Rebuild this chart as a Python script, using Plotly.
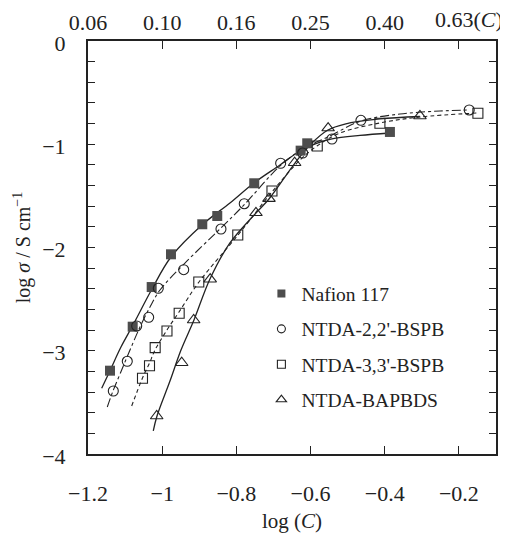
import plotly.graph_objects as go

# ---- data ----
nafion_x = [-1.1407, -1.0795, -1.0283, -0.9763, -0.8919, -0.8515, -0.7518, -0.6267, -0.6089, -0.386]
nafion_y = [-3.193, -2.767, -2.383, -2.066, -1.775, -1.695, -1.378, -1.062, -0.991, -0.881]

bspb22_x = [-1.1318, -1.0941, -1.0687, -1.0364, -1.0105, -0.942, -0.8415, -0.7787, -0.6806, -0.6213, -0.5423, -0.4642, -0.1722]
bspb22_y = [-3.390, -3.102, -2.760, -2.676, -2.395, -2.215, -1.821, -1.576, -1.184, -1.085, -0.949, -0.768, -0.668]

bspb33_x = [-1.0531, -1.0342, -1.0189, -0.9871, -0.9542, -0.9013, -0.7962, -0.704, -0.5819, -0.413, -0.1488]
bspb33_y = [-3.267, -3.145, -2.970, -2.809, -2.637, -2.334, -1.879, -1.453, -1.017, -0.797, -0.700]

bapbds_x = [-1.0148, -0.9474, -0.9151, -0.8706, -0.7472, -0.7121, -0.6429, -0.5526, -0.3051]
bapbds_y = [-3.632, -3.116, -2.702, -2.307, -1.664, -1.527, -1.179, -0.843, -0.726]

# fitted curves
nafion_fit_x = [-1.1631, -1.1407, -1.1111, -1.0787, -1.0275, -0.9763, -0.8927, -0.8173, -0.7526, -0.6825, -0.6286, -0.5854, -0.5423, -0.4668, -0.386]
nafion_fit_y = [-3.364, -3.193, -2.964, -2.751, -2.402, -2.092, -1.782, -1.569, -1.375, -1.201, -1.065, -0.993, -0.949, -0.915, -0.891]

bspb22_fit_x = [-1.148, -1.1326, -1.1137, -1.0868, -1.0598, -1.0329, -1.0059, -0.9412, -0.8415, -0.7795, -0.6798, -0.6205, -0.5477, -0.4642, -0.359, -0.2512, -0.173]
bspb22_fit_y = [-3.545, -3.390, -3.225, -2.993, -2.770, -2.576, -2.412, -2.160, -1.811, -1.588, -1.201, -1.046, -0.920, -0.775, -0.707, -0.678, -0.668]

bspb33_fit_x = [-1.0822, -1.0531, -1.0342, -1.0194, -0.9871, -0.9547, -0.9008, -0.7957, -0.704, -0.6286, -0.5827, -0.5208, -0.4129, -0.3051, -0.1488]
bspb33_fit_y = [-3.535, -3.264, -3.119, -2.993, -2.799, -2.625, -2.334, -1.879, -1.462, -1.153, -1.017, -0.891, -0.794, -0.736, -0.697]

bapbds_fit_x = [-1.024, -1.014, -0.979, -0.9493, -0.9143, -0.8712, -0.8173, -0.7472, -0.7121, -0.642, -0.6016, -0.5531, -0.5073, -0.4129, -0.3051]
bapbds_fit_y = [-3.777, -3.632, -3.293, -2.993, -2.702, -2.305, -1.956, -1.666, -1.530, -1.182, -1.007, -0.862, -0.804, -0.755, -0.731]

series_names = ["Nafion 117", "NTDA-2,2'-BSPB", "NTDA-3,3'-BSPB", "NTDA-BAPBDS"]

x_tickvals = [-1.2, -1.0, -0.8, -0.6, -0.4, -0.2]
x_ticktext = ["\u22121.2", "\u22121", "\u22120.8", "\u22120.6", "\u22120.4", "\u22120.2"]
top_ticktext = ["0.06", "0.10", "0.16", "0.25", "0.40", ""]
top_last_label = "0.63(<i>C</i>)"
y_tickvals = [round(-0.2 * i, 1) for i in range(21)]
y_major = {0.0: "0", -1.0: "\u22121", -2.0: "\u22122", -3.0: "\u22123", -4.0: "\u22124"}

FONT = "Liberation Serif, Times New Roman, serif"
INK = "#222222"
FILL = "#4d4d4d"

fig = go.Figure()

# fitted lines
fig.add_trace(go.Scatter(x=nafion_fit_x, y=nafion_fit_y, mode="lines", line=dict(color=INK, width=1.3, shape="spline"), showlegend=False, hoverinfo="skip"))
fig.add_trace(go.Scatter(x=bspb22_fit_x, y=bspb22_fit_y, mode="lines", line=dict(color=INK, width=1.1, dash="dashdot", shape="spline"), showlegend=False, hoverinfo="skip"))
fig.add_trace(go.Scatter(x=bspb33_fit_x, y=bspb33_fit_y, mode="lines", line=dict(color=INK, width=1.1, dash="4px,3px", shape="spline"), showlegend=False, hoverinfo="skip"))
fig.add_trace(go.Scatter(x=bapbds_fit_x, y=bapbds_fit_y, mode="lines", line=dict(color=INK, width=1.3, shape="spline"), showlegend=False, hoverinfo="skip"))

# markers
marker_styles = [
    dict(symbol="square", color=FILL, line=dict(color=FILL, width=0)),
    dict(symbol="circle-open", color=INK, line=dict(width=1.1)),
    dict(symbol="square-open", color=INK, line=dict(width=1.1)),
    dict(symbol="triangle-up-open", color=INK, line=dict(width=1.1)),
]
data_sets = [(nafion_x, nafion_y, 10), (bspb22_x, bspb22_y, 10), (bspb33_x, bspb33_y, 10), (bapbds_x, bapbds_y, 11)]
for (xs, ys, sz), st, nm in zip(data_sets, marker_styles, series_names):
    fig.add_trace(go.Scatter(x=xs, y=ys, mode="markers", name=nm, showlegend=False,
                             marker=dict(size=sz, **st)))
# legend entries (small symbols as in the reference legend)
for i, (st, nm) in enumerate(zip(marker_styles, series_names)):
    fig.add_trace(go.Scatter(x=[None], y=[None], mode="markers", name=nm, legendgroup=f"g{i}",
                             marker=dict(size=8 if i != 3 else 9, **st)))
fig.add_trace(go.Scatter(x=[None], y=[None], xaxis="x2", showlegend=False, hoverinfo="skip"))

fig.update_layout(
    width=500, height=526,
    margin=dict(l=80, r=12, t=33, b=80),
    paper_bgcolor="white", plot_bgcolor="white",
    font=dict(family=FONT, size=22, color=INK),
    showlegend=True,
    legend=dict(x=0.425, y=0.435, xanchor="left", yanchor="top", bgcolor="rgba(0,0,0,0)",
                font=dict(family=FONT, size=19.5, color=INK), tracegroupgap=7),
    xaxis=dict(range=[-1.2, -0.1], tickvals=x_tickvals, ticktext=x_ticktext, ticks="inside", ticklen=8,
               tickwidth=1.2, tickcolor=INK, showline=True, linecolor=INK, linewidth=2, showgrid=False,
               zeroline=False, mirror=False, ticklabelstandoff=19, automargin=False,
               tickfont=dict(family=FONT, size=22),
               title=dict(text="log (<i>C</i>)", font=dict(family=FONT, size=21), standoff=8)),
    xaxis2=dict(range=[-1.2, -0.1], overlaying="x", side="top", matches="x", tickvals=x_tickvals, ticktext=top_ticktext,
                ticks="inside", ticklen=8, tickwidth=1.2, tickcolor=INK, showline=True, linecolor=INK,
                linewidth=2, showgrid=False, zeroline=False, ticklabelstandoff=0, automargin=False,
                tickfont=dict(family=FONT, size=22)),
    yaxis=dict(range=[-4, 0], tickvals=y_tickvals, ticktext=[y_major.get(v, "") for v in y_tickvals],
               ticks="inside", ticklen=7, tickwidth=1.2, tickcolor=INK, showline=True, linecolor=INK,
               linewidth=2, mirror="ticks", showgrid=False, zeroline=False, ticklabelstandoff=16,
               ticklabelshift=2, automargin=False, tickfont=dict(family=FONT, size=22),
               title=dict(text="log <i>\u03c3</i> / S cm<sup>\u22121</sup>", font=dict(family=FONT, size=20), standoff=6)),
    annotations=[dict(text=top_last_label, xref="x", yref="paper", x=x_tickvals[-1], y=1, xanchor="center", yanchor="bottom",
                      xshift=10, yshift=7, showarrow=False, font=dict(family=FONT, size=22, color=INK))],
)

fig.write_html("out.html")
